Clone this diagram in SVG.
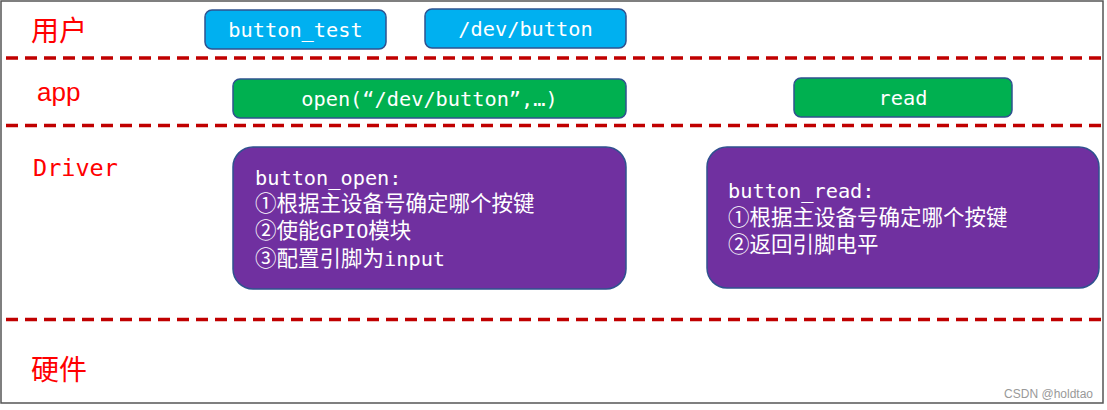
<svg xmlns="http://www.w3.org/2000/svg" width="1107" height="410" viewBox="0 0 1107 410">
<style>
.lane{font-family:"Noto Sans CJK SC","Liberation Sans",sans-serif;font-size:28px;fill:#ff0000}
.lat{font-family:"DejaVu Sans Mono","Liberation Mono",monospace;font-size:20.3px;fill:#ffffff}
.cjk{font-family:"Noto Sans CJK SC",sans-serif;font-size:21.5px}
.dash{stroke:#c00000;stroke-width:3.5;stroke-dasharray:12 7;fill:none}
.blue{fill:#00b0f0;stroke:#2f528f;stroke-width:1.5}
.green{fill:#00b050;stroke:#2f528f;stroke-width:1.5}
.purple{fill:#7030a0;stroke:#2f528f;stroke-width:1.5}
</style>
<rect x="0" y="0" width="1107" height="410" fill="#ffffff"/>
<rect x="1" y="1" width="1102" height="402" fill="none" stroke="#555555" stroke-width="1.5"/>
<g id="lanes">
<line class="dash" x1="6" y1="58" x2="1101" y2="58"/>
<line class="dash" x1="6" y1="125.5" x2="1101" y2="125.5"/>
<line class="dash" x1="6" y1="319.5" x2="1101" y2="319.5"/>
<text class="lane" x="31" y="41">用户</text>
<text x="37" y="101" style="font-family:'Liberation Sans',sans-serif;font-size:26px;fill:#ff0000">app</text>
<text x="33" y="176" style="font-family:'DejaVu Sans Mono',monospace;font-size:23.5px;fill:#ff0000">Driver</text>
<text class="lane" x="31" y="380">硬件</text>
</g>
<g id="connectors"></g>
<g id="button_test">
<rect class="blue" x="205" y="10" width="181" height="39" rx="7"/>
<text class="lat" x="295.5" y="37" text-anchor="middle">button_test</text>
</g>
<g id="dev_button">
<rect class="blue" x="425" y="9" width="201" height="39" rx="7"/>
<text class="lat" x="525.5" y="36" text-anchor="middle">/dev/button</text>
</g>
<g id="open">
<rect class="green" x="233" y="79" width="393" height="39" rx="7"/>
<text class="lat" x="429.5" y="106" text-anchor="middle">open(“/dev/button”,…)</text>
</g>
<g id="read">
<rect class="green" x="794" y="78" width="218" height="39" rx="7"/>
<text class="lat" x="903" y="105" text-anchor="middle">read</text>
</g>
<g id="button_open">
<rect class="purple" x="233" y="147" width="393" height="142" rx="20"/>
<text class="lat" x="255" y="185">button_open:</text>
<text class="lat" x="255" y="211"><tspan class="cjk">①根据主设备号确定哪个按键</tspan></text>
<text class="lat" x="255" y="238"><tspan class="cjk">②使能</tspan>GPIO<tspan class="cjk">模块</tspan></text>
<text class="lat" x="255" y="266"><tspan class="cjk">③配置引脚为</tspan>input</text>
</g>
<g id="button_read">
<rect class="purple" x="707" y="147" width="392" height="141" rx="20"/>
<text class="lat" x="728" y="198">button_read:</text>
<text class="lat" x="728" y="225"><tspan class="cjk">①根据主设备号确定哪个按键</tspan></text>
<text class="lat" x="728" y="252"><tspan class="cjk">②返回引脚电平</tspan></text>
</g>
<text x="1093" y="398" text-anchor="end" style="font-family:'Liberation Sans',sans-serif;font-size:12px;fill:#999999">CSDN @holdtao</text>
</svg>
